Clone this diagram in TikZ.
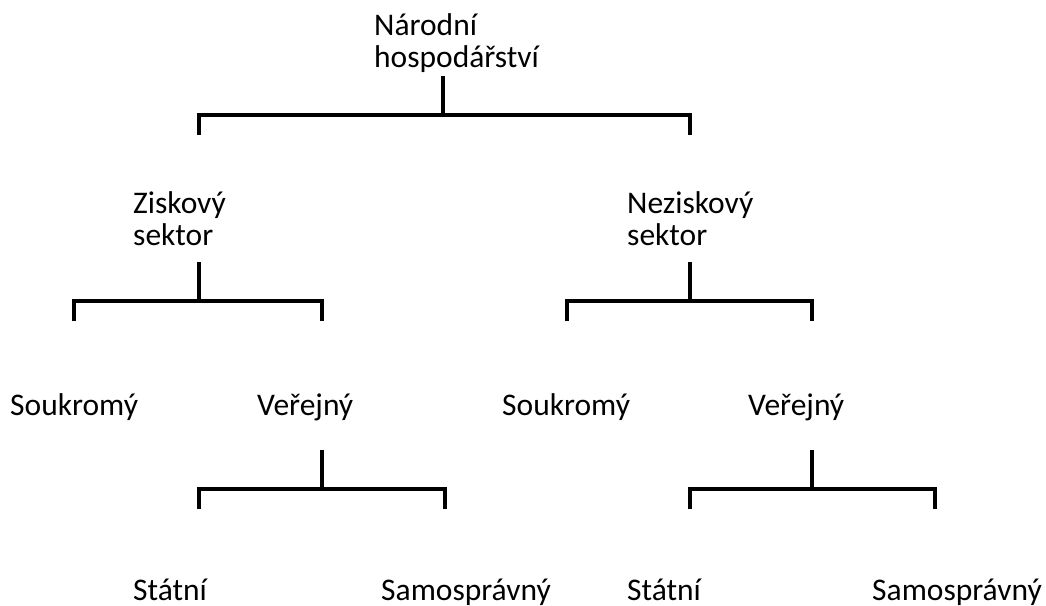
\documentclass[tikz,border=0pt]{standalone}
\usepackage{fontspec}
\setmainfont{Carlito}

\begin{document}
\begin{tikzpicture}[x=1pt,y=-1pt,
  orgtext/.style={anchor=base west,inner sep=0pt,align=left,font=\fontsize{31.5}{32}\selectfont},
  bracket/.style={line width=4.5pt,line join=miter}]
\useasboundingbox (0,0) rectangle (1046,605);
  \foreach \name/\x/\y/\txt in {nh/374/67/{Národní\\hospodářství},
      zisk/133/245/{Ziskový\\sektor},nezisk/627/245/{Neziskový\\sektor},
      souk1/10/415/Soukromý,ver1/257/415/Veřejný,souk2/502/415/Soukromý,ver2/748/415/Veřejný,
      stat1/133/600/Státní,samo1/381/600/Samosprávný,stat2/627/600/Státní,samo2/872/600/Samosprávný}
  {  \node [orgtext] (\name) at (\x,\y) {\txt};}
  \foreach \name/\x/\y in {nh/443/76,zisk/199/262,nezisk/690/262,ver1/322/450,ver2/812/450}
  {  \coordinate (\name-out) at (\x,\y);}
  \foreach \name/\x/\y in {zisk/199/135,nezisk/690/135,souk1/74/321,ver1/322/321,souk2/567/321,
      ver2/812/321,stat1/199/509,samo1/445/509,stat2/690/509,samo2/935/509}
  {  \coordinate (\name-in) at (\x,\y);}
  \foreach \p/\l/\r in {nh/zisk/nezisk,zisk/souk1/ver1,nezisk/souk2/ver2,ver1/stat1/samo1,ver2/stat2/samo2}
  {  \draw [bracket] (\p-out) -- ++(0,39) coordinate (\p-bar);
     \draw [bracket] (\l-in) |- (\p-bar) -| (\r-in);}
\end{tikzpicture}
\end{document}
